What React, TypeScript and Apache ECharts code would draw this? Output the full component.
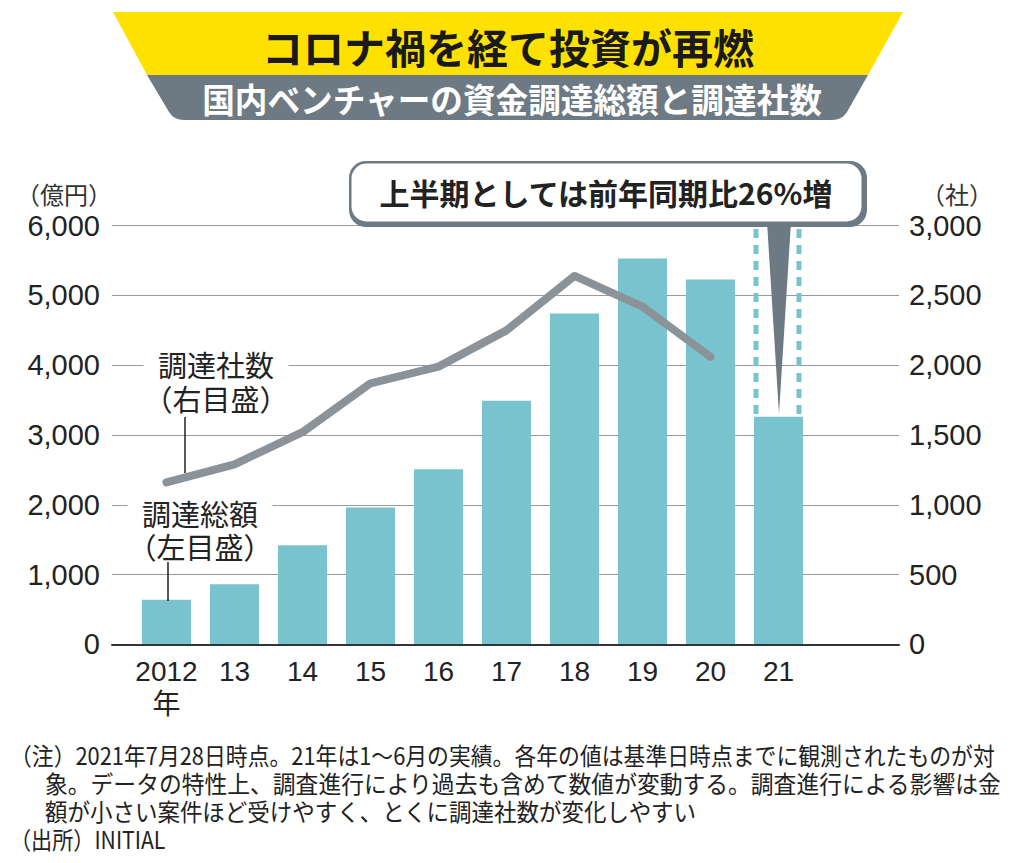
import React, { useEffect, useRef } from "react";
import * as echarts from "echarts";

const years = ["2012", "13", "14", "15", "16", "17", "18", "19", "20", "21"];
const fundingOku = [640, 860, 1420, 1960, 2510, 3490, 4740, 5530, 5230, 3260];
const companyCount = [1160, 1290, 1520, 1870, 1990, 2250, 2640, 2420, 2060];
const leftAxis = { min: 0, max: 6000, interval: 1000 };
const rightAxis = { min: 0, max: 3000, interval: 500 };

const title = "コロナ禍を経て投資が再燃";
const subtitle = "国内ベンチャーの資金調達総額と調達社数";
const callout = "上半期としては前年同期比26%増";
const noteLines = [
  "（注）2021年7月28日時点。21年は1〜6月の実績。各年の値は基準日時点までに観測されたものが対",
  "象。データの特性上、調査進行により過去も含めて数値が変動する。調査進行による影響は金",
  "額が小さい案件ほど受けやすく、とくに調達社数が変化しやすい",
  "（出所）INITIAL",
];

const TEAL = "#78c3cd";
const LINE_GREY = "#8b9398";
const BANNER_GREY = "#6d7a83";
const YELLOW = "#ffe100";
const JP = "'Noto Sans CJK JP', sans-serif";
const NUM = "'Liberation Sans', 'Noto Sans CJK JP', sans-serif";

let registered = false;
function registerShapes() {
  if (registered) return;
  registered = true;
  echarts.graphic.registerShape(
    "banner",
    echarts.graphic.extendPath(
      "M147,75 L868,75 L847,112 Q842,120 832,120 L184,120 Q174,120 169,112 Z",
      {}
    )
  );
}

export default function App() {
  const ref = useRef<HTMLDivElement>(null);
  useEffect(() => {
    document.body.style.margin = "0";
    registerShapes();
    const chart = echarts.init(ref.current!, null, { renderer: "svg" });
    const top = 225.7;
    const bottom = 863 - 644.3;
    const fmt = (v: number) => v.toLocaleString("en-US");
    const noteX = [10, 45, 45, 10];
    const noteY = [755, 783, 811, 839];
    const noteScale = [0.91, 0.95, 0.937, 0.88];
    const option: any = {
      animation: false,
      backgroundColor: "#fff",
      grid: [
        { left: 112, right: 125, top, bottom },
        { left: 132.5, right: 211.5, top, bottom },
      ],
      xAxis: [
        {
          gridIndex: 0,
          type: "value",
          min: 0,
          max: 1,
          z: 5,
          axisLine: { show: true, lineStyle: { color: "#333", width: 2 } },
          axisTick: { show: false },
          axisLabel: { show: false },
          splitLine: { show: false },
        },
        {
          gridIndex: 1,
          type: "category",
          data: years,
          axisLine: { show: false },
          axisTick: { show: false },
          axisLabel: {
            interval: 0,
            margin: 11,
            fontSize: 28,
            lineHeight: 33,
            color: "#222",
            fontFamily: NUM,
            formatter: (v: string, i: number) => (i === 0 ? v + "\n年" : v),
          },
        },
      ],
      yAxis: [
        {
          gridIndex: 0,
          type: "value",
          position: "left",
          ...leftAxis,
          axisLine: { show: false },
          axisTick: { show: false },
          axisLabel: { margin: 12, fontSize: 29, color: "#222", fontFamily: NUM, formatter: fmt },
          splitLine: { lineStyle: { color: "#9a9a9a", width: 1.2 } },
        },
        {
          gridIndex: 0,
          type: "value",
          position: "right",
          ...rightAxis,
          axisLine: { show: false },
          axisTick: { show: false },
          axisLabel: { margin: 10, fontSize: 29, color: "#222", fontFamily: NUM, formatter: fmt },
          splitLine: { show: false },
        },
        { gridIndex: 1, type: "value", ...leftAxis, show: false },
        { gridIndex: 1, type: "value", ...rightAxis, show: false },
      ],
      series: [
        {
          type: "bar",
          xAxisIndex: 1,
          yAxisIndex: 2,
          data: fundingOku,
          barWidth: 49,
          itemStyle: { color: TEAL },
          z: 2,
        },
        {
          type: "line",
          xAxisIndex: 1,
          yAxisIndex: 3,
          data: companyCount,
          symbol: "none",
          lineStyle: { color: LINE_GREY, width: 8, cap: "round", join: "round" },
          z: 3,
        },
      ],
      graphic: [
        {
          type: "polygon",
          shape: { points: [[113, 12], [903, 12], [868, 75], [147, 75]] },
          style: { fill: YELLOW },
        },
        { type: "banner", x: 0, y: 0, style: { fill: BANNER_GREY } },
        {
          type: "text",
          x: 508,
          y: 46,
          style: {
            text: title,
            fontSize: 41,
            fontWeight: "bold",
            fontFamily: JP,
            fill: "#1a1a1a",
            align: "center",
            verticalAlign: "middle",
          },
        },
        {
          type: "text",
          x: 512,
          y: 98,
          scaleX: 0.96,
          style: {
            text: subtitle,
            fontSize: 34,
            fontWeight: "bold",
            fontFamily: JP,
            fill: "#fff",
            align: "center",
            verticalAlign: "middle",
          },
        },
        {
          type: "text",
          x: 16,
          y: 193,
          style: { text: "（億円）", fontSize: 24, fontFamily: JP, fill: "#333", verticalAlign: "middle" },
        },
        {
          type: "text",
          x: 921,
          y: 193,
          style: { text: "（社）", fontSize: 24, fontFamily: JP, fill: "#333", verticalAlign: "middle" },
        },
        {
          type: "line",
          shape: { x1: 756, y1: 229, x2: 756, y2: 417 },
          style: { stroke: TEAL, lineWidth: 5, lineDash: [9, 7] },
          z: 10,
        },
        {
          type: "line",
          shape: { x1: 799, y1: 229, x2: 799, y2: 417 },
          style: { stroke: TEAL, lineWidth: 5, lineDash: [9, 7] },
          z: 10,
        },
        {
          type: "rect",
          shape: { x: 349, y: 161, width: 518, height: 66, r: 17 },
          style: { fill: BANNER_GREY },
          z: 10,
        },
        {
          type: "rect",
          shape: { x: 351.5, y: 163.5, width: 510, height: 58, r: 15 },
          style: { fill: "#fff" },
          z: 11,
        },
        {
          type: "polygon",
          shape: { points: [[767, 222], [791, 222], [779, 414]] },
          style: { fill: BANNER_GREY },
          z: 12,
        },
        {
          type: "text",
          x: 606,
          y: 192,
          z: 13,
          style: {
            text: callout,
            fontSize: 30,
            fontWeight: "bold",
            fontFamily: JP,
            fill: "#222",
            align: "center",
            verticalAlign: "middle",
          },
        },
        {
          type: "text",
          x: 216,
          y: 381,
          z: 10,
          style: {
            text: "調達社数\n（右目盛）",
            fontSize: 29,
            lineHeight: 34,
            fontFamily: JP,
            fill: "#222",
            align: "center",
            verticalAlign: "middle",
            backgroundColor: "#fff",
            padding: [0, 0, 0, 0],
          },
        },
        {
          type: "line",
          shape: { x1: 185, y1: 417, x2: 185, y2: 473 },
          style: { stroke: "#222", lineWidth: 1.5 },
          z: 10,
        },
        {
          type: "text",
          x: 200,
          y: 529,
          z: 10,
          style: {
            text: "調達総額\n（左目盛）",
            fontSize: 29,
            lineHeight: 33,
            fontFamily: JP,
            fill: "#222",
            align: "center",
            verticalAlign: "middle",
            backgroundColor: "#fff",
            padding: [0, 0, 0, 0],
          },
        },
        {
          type: "line",
          shape: { x1: 168, y1: 562, x2: 168, y2: 601 },
          style: { stroke: "#222", lineWidth: 1.5 },
          z: 10,
        },
        ...noteLines.map((t, i) => ({
          type: "text",
          x: noteX[i],
          y: noteY[i],
          scaleX: noteScale[i],
          style: { text: t, fontSize: 24, fontFamily: JP, fill: "#222", verticalAlign: "middle" },
        })),
      ],
    };
    chart.setOption(option);
    return () => chart.dispose();
  }, []);
  return <div ref={ref} style={{ width: 1024, height: 863 }} />;
}
